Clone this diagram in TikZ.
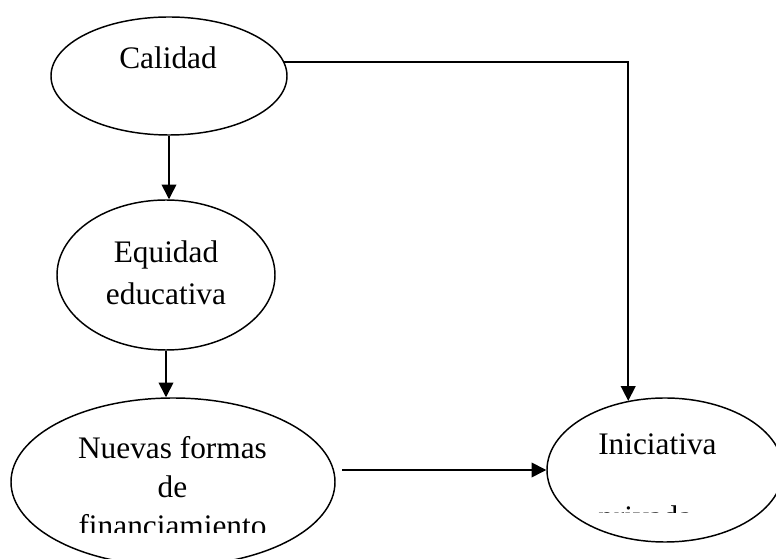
\documentclass[tikz,border=0pt]{standalone}
\usepackage{fontspec}
\setmainfont{Liberation Serif}
\usetikzlibrary{shapes.geometric,arrows.meta,calc}
\begin{document}
\begin{tikzpicture}[x=0.75pt,y=-0.75pt,
  oval/.style={draw,ellipse,line width=1.1pt,inner sep=0pt},
  lbl/.style={font=\fontsize{23.5}{28}\selectfont,anchor=base,inner sep=0pt},
  conn/.style={line width=1.2pt},
  arr/.style={conn,-{Triangle[length=11pt,width=11pt]}}]
\clip (0,0) rectangle (776,559);
% ellipses
\node[oval,minimum width=177pt,minimum height=88.5pt] (cal) at (169,76) {};
\node[oval,minimum width=163.5pt,minimum height=112.5pt] (equ) at (166,275) {};
\node[oval,minimum width=243pt,minimum height=126pt] (nue) at (173,482) {};
\node[oval,minimum width=177pt,minimum height=108pt] (ini) at (665,470) {};
% labels
\node[lbl] (tcal) at (168,69) {Calidad};
\node[lbl] (tequ1) at (166,263) {Equidad};
\node[lbl] (tequ2) at (166,305) {educativa};
\node[lbl] (tnue1) at (172.5,459) {Nuevas formas};
\node[lbl] (tnue2) at (172.5,498) {de};
\begin{scope}
  \clip (0,0) rectangle (776,533);
  \node[lbl] (tnue3) at (172.5,537) {financiamiento};
\end{scope}
\node[lbl,anchor=base west] (tini1) at (598,455) {Iniciativa};
\begin{scope}
  \clip (0,0) rectangle (776,513);
  \node[lbl,anchor=base west] (tini2) at (598,528) {privada};
\end{scope}
% connectors
\draw[arr] (cal.south) -- (cal.south |- equ.north);
\draw[arr] (equ.south) -- (equ.south |- nue.north);
\draw[arr] ([xshift=5pt]nue.east |- ini.west) -- (ini.west);
\draw[arr] (cal.7) -| (ini.118);
\end{tikzpicture}
\end{document}
